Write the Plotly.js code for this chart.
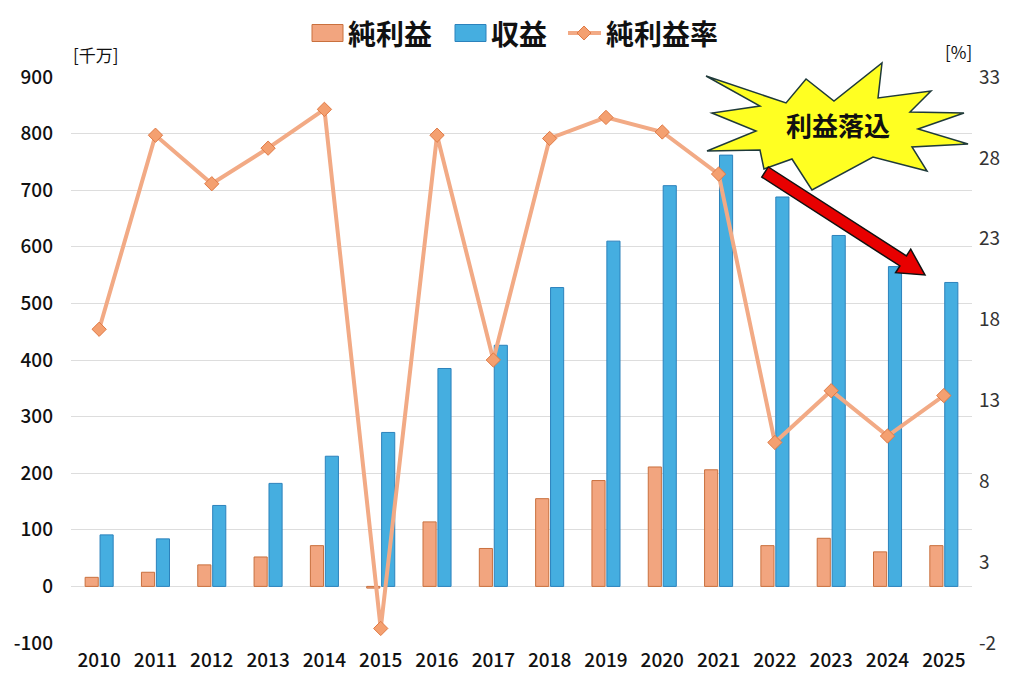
<!DOCTYPE html>
<html>
<head>
<meta charset="utf-8">
<script src="https://cdn.plot.ly/plotly-3.0.1.min.js"></script>
<style>html,body{margin:0;padding:0;background:#fff;}#chart{width:1024px;height:683px;}</style>
</head>
<body>
<div id="chart"></div>
<script>
var years = ["2010","2011","2012","2013","2014","2015","2016","2017","2018","2019","2020","2021","2022","2023","2024","2025"];
var netProfit = [16, 25, 38, 52, 72, -3, 114, 67, 155, 187, 211, 206, 72, 85, 61, 72];
var revenue = [91, 84, 143, 182, 230, 272, 385, 426, 528, 610, 708, 762, 688, 620, 565, 537];
var margin = [17.4, 29.4, 26.4, 28.6, 31.0, -1.1, 29.4, 15.5, 29.2, 30.5, 29.6, 27.0, 10.4, 13.6, 10.8, 13.3];
var leftTicks = [-100, 0, 100, 200, 300, 400, 500, 600, 700, 800, 900];
var rightTicks = [-2, 3, 8, 13, 18, 23, 28, 33];
var seriesNames = ["純利益", "収益", "純利益率"];
var calloutText = "利益落込";

var C_NET = '#F2A57F', C_NET_LINE = '#C9703E';
var C_REV = '#45AEE0', C_REV_LINE = '#2C82BC';
var C_RATE = '#F2AA85', C_RATE_MK = '#F4A070', C_RATE_MKL = '#E07A45';

// plot area in pixels (for decorative callout / legend shapes)
var PL = 71, PR = 972, PT = 77, PB = 643;
function px(x){ return (x - PL) / (PR - PL); }
function py(y){ return (PB - y) / (PB - PT); }
function pathFrom(pts){
  return pts.map(function(p,i){ return (i? 'L':'M') + px(p[0]).toFixed(4) + ',' + py(p[1]).toFixed(4); }).join(' ') + ' Z';
}
var burst = [[706,76],[786,103],[806,79],[834,101],[882,63],[878,98],[931,91],[910,112],[964,113],[918,129],[968,144],[912,147],[927,171],[873,157],[812,190],[792,159],[764,169],[760,150],[707,151],[756,131],[712,113],[760,106]];
var S = [765,172], E = [925,275];
var dx = E[0]-S[0], dy = E[1]-S[1], L = Math.sqrt(dx*dx+dy*dy);
var ux = dx/L, uy = dy/L, nx = -uy, ny = ux;
var hw = 6, hh = 14, hl = 26;
var B = [E[0]-ux*hl, E[1]-uy*hl];
var arrow = [
  [S[0]+nx*hw, S[1]+ny*hw], [B[0]+nx*hw, B[1]+ny*hw], [B[0]+nx*hh, B[1]+ny*hh], E,
  [B[0]-nx*hh, B[1]-ny*hh], [B[0]-nx*hw, B[1]-ny*hw], [S[0]-nx*hw, S[1]-ny*hw]
];
var LY = 33; // legend row centre (px)
var diamond = [[584,LY-7],[591,LY],[584,LY+7],[577,LY]];

var traces = [
  {type:'bar', name:seriesNames[0], x:years, y:netProfit,
   marker:{color:C_NET, line:{color:C_NET_LINE, width:1}}},
  {type:'bar', name:seriesNames[1], x:years, y:revenue,
   marker:{color:C_REV, line:{color:C_REV_LINE, width:1}}},
  {type:'scatter', mode:'lines+markers', name:seriesNames[2], x:years, y:margin, yaxis:'y2',
   line:{color:C_RATE, width:4},
   marker:{symbol:'diamond', size:11, color:C_RATE_MK, line:{color:C_RATE_MKL, width:1}}}
];

var legFont = {family:'Noto Sans CJK JP', size:28, color:'#111', weight:700};
var layout = {
  width:1024, height:683,
  margin:{l:PL, r:1024-PR, t:PT, b:683-PB, autoexpand:false},
  paper_bgcolor:'#fff', plot_bgcolor:'#fff',
  barmode:'group', bargap:0.47, bargroupgap:0.12,
  showlegend:false,
  font:{family:'Noto Sans CJK JP', color:'#111'},
  xaxis:{type:'category', range:[-0.5, 15.5], tickfont:{family:'Noto Sans CJK JP', size:19, color:'#111', weight:500},
         showgrid:false, showline:false, zeroline:false, ticks:'', ticklabelstandoff:4},
  yaxis:{range:[-100,900], tickvals:leftTicks, ticktext:leftTicks.map(String),
         tickfont:{family:'Noto Sans CJK JP', size:19, color:'#111', weight:500},
         gridcolor:'#DDDDDD', gridwidth:1, zeroline:false, showline:false, ticklabelstandoff:17},
  yaxis2:{range:[-2,33], tickvals:rightTicks, ticktext:rightTicks.map(String), overlaying:'y', side:'right', showgrid:false, zeroline:false,
          tickfont:{family:'Noto Sans CJK JP', size:19, color:'#333'}, ticklabelstandoff:6},
  shapes:[
    {type:'path', xref:'paper', yref:'paper', path:pathFrom(burst), fillcolor:'#FFFF22', line:{color:'#1F3A3A', width:1.5}, layer:'above'},
    {type:'path', xref:'paper', yref:'paper', path:pathFrom(arrow), fillcolor:'#E80000', line:{color:'#111', width:1.5}, layer:'above'},
    // legend keys
    {type:'rect', xref:'paper', yref:'paper', x0:px(312), x1:px(343), y0:py(LY+8.5), y1:py(LY-8.5), fillcolor:C_NET, line:{color:C_NET_LINE, width:1}},
    {type:'rect', xref:'paper', yref:'paper', x0:px(455), x1:px(486), y0:py(LY+8.5), y1:py(LY-8.5), fillcolor:C_REV, line:{color:C_REV_LINE, width:1}},
    {type:'line', xref:'paper', yref:'paper', x0:px(568), x1:px(601), y0:py(LY), y1:py(LY), line:{color:C_RATE, width:4}},
    {type:'path', xref:'paper', yref:'paper', path:pathFrom(diamond), fillcolor:C_RATE_MK, line:{color:C_RATE_MKL, width:1}}
  ],
  annotations:[
    {xref:'paper', yref:'paper', x:px(346), y:py(LY), xanchor:'left', yanchor:'middle', text:seriesNames[0], showarrow:false, font:legFont},
    {xref:'paper', yref:'paper', x:px(489), y:py(LY), xanchor:'left', yanchor:'middle', text:seriesNames[1], showarrow:false, font:legFont},
    {xref:'paper', yref:'paper', x:px(604), y:py(LY), xanchor:'left', yanchor:'middle', text:seriesNames[2], showarrow:false, font:legFont},
    {xref:'paper', yref:'paper', x:px(96), y:py(55), xanchor:'center', yanchor:'middle', text:'[千万]', showarrow:false,
     font:{family:'Noto Sans CJK JP', size:17, color:'#111'}},
    {xref:'paper', yref:'paper', x:px(958), y:py(52), xanchor:'center', yanchor:'middle', text:'[%]', showarrow:false,
     font:{family:'Noto Sans CJK JP', size:17, color:'#111'}},
    {xref:'paper', yref:'paper', x:px(838), y:py(124), xanchor:'center', yanchor:'middle', text:calloutText, showarrow:false,
     font:{family:'Noto Sans CJK JP', size:26, color:'#111', weight:700}}
  ]
};

Plotly.newPlot('chart', traces, layout, {displayModeBar:false, staticPlot:true});
</script>
</body>
</html>
